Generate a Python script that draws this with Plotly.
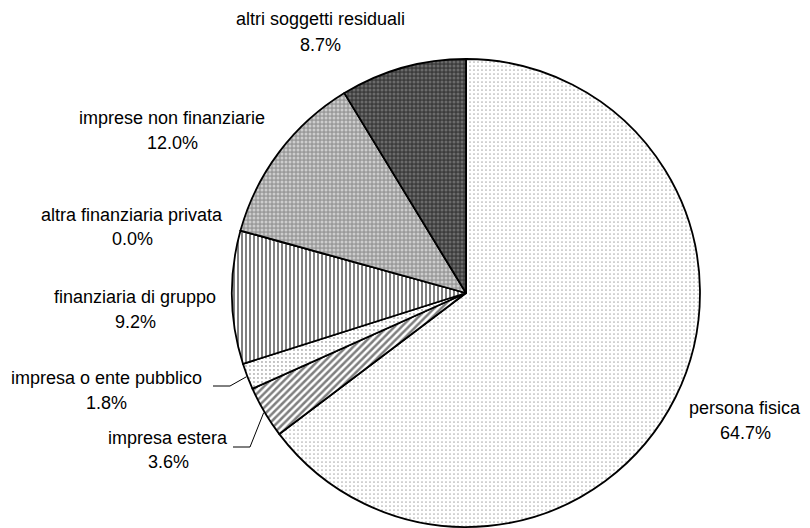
import math
import plotly.graph_objects as go

labels = ["persona fisica", "impresa estera", "impresa o ente pubblico",
          "finanziaria di gruppo", "altra finanziaria privata",
          "imprese non finanziarie", "altri soggetti residuali"]
values = [64.7, 3.6, 1.8, 9.2, 0.0, 12.0, 8.7]
pct_text = ["64.7%", "3.6%", "1.8%", "9.2%", "0.0%", "12.0%", "8.7%"]

W, H = 810, 528
ML, MR, MT, MB = 0, 0, 59, 1
dom_x = [0.2, 0.9506]

shapes_ = [".", "/", ".", "|", "", ".", "."]
fg = ["#606060", "#000000", "#606060", "#000000", "#000000", "#ffffff", "#9a9a9a"]
bg = ["#ffffff", "#ffffff", "#ffffff", "#ffffff", "#ffffff", "#9a9a9a", "#3c3c3c"]
sizes = [4, 5, 4, 4, 4, 4, 4]
solid = [0.15, 0.5, 0.18, 0.5, 0.3, 0.45, 0.45]

fig = go.Figure(go.Pie(
    labels=labels, values=values, sort=False, direction="clockwise", rotation=0,
    textinfo="none", hoverinfo="label+percent", showlegend=False,
    domain=dict(x=dom_x, y=[0, 1]),
    marker=dict(colors=bg, line=dict(color="black", width=1.8),
                pattern=dict(shape=shapes_, fgcolor=fg, bgcolor=bg, size=sizes,
                             solidity=solid, fillmode="overlay")),
))

# pie geometry in pixels
PW = W - ML - MR
ph = H - MT - MB
pw = PW * (dom_x[1] - dom_x[0])
r = min(pw, ph) / 2
cx = ML + PW * (dom_x[0] + dom_x[1]) / 2
cy = MT + ph / 2

def edge_point(i, rr=r):
    total = sum(values)
    start = sum(values[:i])
    mid = (start + values[i] / 2) / total * 2 * math.pi
    return cx + rr * math.sin(mid), cy - rr * math.cos(mid)

def px(x, y):
    # pixel -> paper coordinates (paper spans the plot area inside margins)
    return (x - ML) / PW, 1 - (y - MT) / ph

# label placements (pixels): label centre x, label y, pct y
label_pos = {
    0: (745, 408, 433),
    1: (168, 438, 462),
    2: (107, 378, 403),
    3: (135, 297, 322),
    4: (132, 215, 239),
    5: (172, 118, 143),
    6: (320, 19, 45),
}
ann = []
for i, (x, y1, y2) in label_pos.items():
    for txt, yy in ((labels[i], y1), (pct_text[i], y2)):
        ax, ay = px(x, yy)
        ann.append(dict(x=ax, y=ay, xref="paper", yref="paper", text=txt,
                        showarrow=False, xanchor="center", yanchor="middle",
                        font=dict(family="Liberation Sans, Arial, sans-serif",
                                  size=18, color="black")))

# leader lines for the two small slices
lines = []
for i, xa, xb, y0 in ((2, 213, 230, 386), (1, 233, 250, 447)):
    ex, ey = edge_point(i, r + 1)
    pts = [px(xa, y0), px(xb, y0), px(ex, ey)]
    path = "M " + " L ".join(f"{p[0]},{p[1]}" for p in pts)
    lines.append(dict(type="path", xref="paper", yref="paper", path=path,
                      line=dict(color="black", width=1)))

fig.update_layout(
    width=W, height=H, margin=dict(l=ML, r=MR, t=MT, b=MB),
    paper_bgcolor="white", plot_bgcolor="white",
    annotations=ann, shapes=lines,
)
fig.write_html("out.html", config={"displayModeBar": False},
               post_script="document.body.style.margin='0';")
